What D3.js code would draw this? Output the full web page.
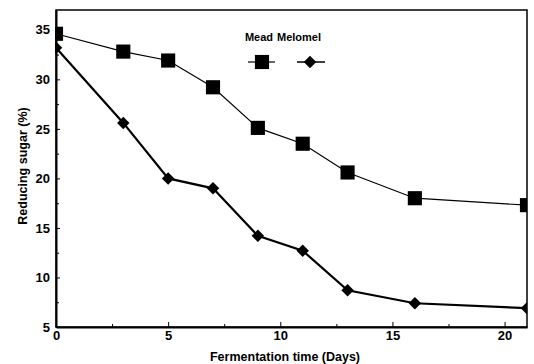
<!DOCTYPE html>
<html><head><meta charset="utf-8">
<script src="https://cdn.jsdelivr.net/npm/d3@7"></script>
<style>body{margin:0;background:#fff}svg{display:block}text{font-family:"Liberation Sans",Arial,sans-serif;font-weight:bold;fill:#000}</style>
</head><body>
<script>
const days = [0, 3, 5, 7, 9, 11, 13, 16, 21];
const mead = [34.6, 32.8, 31.9, 29.2, 25.1, 23.5, 20.6, 18.0, 17.3];
const melomel = [33.2, 25.6, 20.0, 19.0, 14.2, 12.7, 8.7, 7.4, 6.9];
const xTicks = [0, 5, 10, 15, 20];
const yTicks = [5, 10, 15, 20, 25, 30, 35];
const xMinor = [2.5, 7.5, 12.5, 17.5];
const yMinor = [7.5, 12.5, 17.5, 22.5, 27.5, 32.5];
const seriesNames = ["Mead", "Melomel"];

const W = 534, H = 364;
const L = 56, R = 527, T = 10, B = 327;
const svg = d3.select("body").append("svg").attr("width", W).attr("height", H);
const x = d3.scaleLinear().domain([0, 21]).range([L, R]);
const y = d3.scaleLinear().domain([5, 37]).range([B, T]);

svg.append("rect").attr("x", L).attr("y", T).attr("width", R - L).attr("height", B - T)
  .attr("fill", "none").attr("stroke", "#000").attr("stroke-width", 1.5);

const xa = svg.append("g").attr("transform", `translate(0,${B})`)
  .call(d3.axisBottom(x).tickValues(xTicks).tickSizeInner(-5).tickSizeOuter(0).tickPadding(4));
xa.select(".domain").attr("stroke-width", 2);
xa.selectAll("text").attr("font-size", 13).attr("font-family", "Liberation Sans, Arial, sans-serif").attr("font-weight", "bold");
svg.append("g").attr("transform", `translate(0,${B})`)
  .call(d3.axisBottom(x).tickValues(xMinor).tickSizeInner(-3).tickSizeOuter(0).tickFormat(""))
  .select(".domain").remove();

const ya = svg.append("g").attr("transform", `translate(${L},0)`)
  .call(d3.axisLeft(y).tickValues(yTicks).tickSizeInner(-4).tickSizeOuter(0).tickPadding(6));
ya.select(".domain").attr("stroke-width", 2);
ya.selectAll("text").attr("font-size", 13).attr("font-family", "Liberation Sans, Arial, sans-serif").attr("font-weight", "bold");
svg.append("g").attr("transform", `translate(${L},0)`)
  .call(d3.axisLeft(y).tickValues(yMinor).tickSizeInner(-3).tickSizeOuter(0).tickFormat(""))
  .select(".domain").remove();

svg.append("clipPath").attr("id", "clip").append("rect")
  .attr("x", L - 1).attr("y", T).attr("width", R - L + 1).attr("height", B - T);

const line = d3.line().x((d, i) => x(days[i])).y(d => y(d));
const g = svg.append("g").attr("clip-path", "url(#clip)");
g.append("path").datum(mead).attr("d", line).attr("fill", "none").attr("stroke", "#000").attr("stroke-width", 1.2);
g.append("path").datum(melomel).attr("d", line).attr("fill", "none").attr("stroke", "#000").attr("stroke-width", 2.2);

const sq = d3.symbol().type(d3.symbolSquare).size(200);
const dm = d3.symbol().type(d3.symbolSquare).size(78);
g.selectAll(".sq").data(mead).join("path").attr("d", sq)
  .attr("transform", (d, i) => `translate(${x(days[i])},${y(d)})`).attr("fill", "#000");
g.selectAll(".dm").data(melomel).join("path").attr("d", dm)
  .attr("transform", (d, i) => `translate(${x(days[i])},${y(d)}) rotate(45)`).attr("fill", "#000");

const leg = svg.append("g");
leg.append("text").attr("x", 259).attr("y", 41).attr("text-anchor", "middle").attr("font-size", 11).text(seriesNames[0]);
leg.append("text").attr("x", 299).attr("y", 41).attr("text-anchor", "middle").attr("font-size", 11).text(seriesNames[1]);
leg.append("line").attr("x1", 248).attr("x2", 275).attr("y1", 62).attr("y2", 62).attr("stroke", "#000").attr("stroke-width", 1.2);
leg.append("path").attr("d", sq).attr("transform", "translate(262,62)").attr("fill", "#000");
leg.append("line").attr("x1", 297).attr("x2", 325).attr("y1", 62).attr("y2", 62).attr("stroke", "#000").attr("stroke-width", 1.5);
leg.append("path").attr("d", dm).attr("transform", "translate(310,62) rotate(45)").attr("fill", "#000");

svg.append("text").attr("x", 285).attr("y", 361).attr("text-anchor", "middle").attr("font-size", 12.5).text("Fermentation time (Days)");
svg.append("text").attr("transform", "translate(27,166) rotate(-90)").attr("text-anchor", "middle").attr("font-size", 12.5).text("Reducing sugar (%)");
</script>
</body></html>
